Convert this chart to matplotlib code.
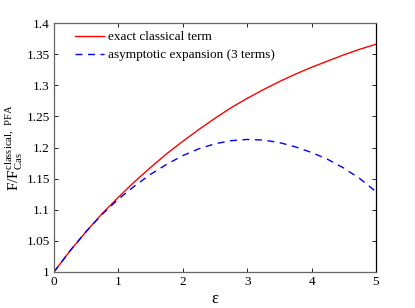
import numpy as np
import matplotlib
matplotlib.use('Agg')
import matplotlib.pyplot as plt

# values
eps = [0, 0.25, 0.5, 0.75, 1.0, 1.25, 1.5, 1.75, 2.0, 2.25, 2.5, 2.75,
       3.0, 3.25, 3.5, 3.75, 4.0, 4.25, 4.5, 4.75, 5.0]
exact = [1.000, 1.034, 1.065, 1.094, 1.120, 1.145, 1.168, 1.190, 1.210, 1.229,
         1.247, 1.264, 1.279, 1.293, 1.306, 1.318, 1.329, 1.339, 1.349, 1.358, 1.366]
asympt = [1.000, 1.034, 1.065, 1.093, 1.117, 1.138, 1.157, 1.173, 1.187, 1.198,
          1.206, 1.211, 1.213, 1.212, 1.208, 1.201, 1.192, 1.181, 1.167, 1.150, 1.129]

labels = ['exact classical term', 'asymptotic expansion (3 terms)']
xticks = [0, 1, 2, 3, 4, 5]
yticks = [1, 1.05, 1.1, 1.15, 1.2, 1.25, 1.3, 1.35, 1.4]

plt.rcParams['font.family'] = ['Liberation Serif', 'DejaVu Serif']
plt.rcParams['mathtext.fontset'] = 'custom'
plt.rcParams['mathtext.rm'] = 'Liberation Serif'
plt.rcParams['font.size'] = 9.5

fig = plt.figure(figsize=(4.15, 3.08), dpi=100)
ax = fig.add_axes([0.130, 0.117, 0.776, 0.808])

ax.plot(eps, exact, color='#ff0000', lw=1.0, label=labels[0])
ax.plot(eps, asympt, color='#0000ff', lw=1.0, ls=(0, (5, 4)), label=labels[1])

ax.set_xlim(0, 5)
ax.set_ylim(1, 1.4)
ax.set_xticks(xticks)
ax.set_yticks(yticks)
ax.set_yticklabels(['1', '1.05', '1.1', '1.15', '1.2', '1.25', '1.3', '1.35', '1.4'])
ax.tick_params(direction='in', top=True, right=True, length=3, width=0.6, pad=3)

for s in ['left', 'bottom', 'top']:
    ax.spines[s].set_color('#666666')
ax.spines['right'].set_color('black')
for s in ax.spines.values():
    s.set_linewidth(0.9)

ax.set_xlabel('ε', fontsize=12, labelpad=2)
ax.set_ylabel(r'F/F$_{\mathrm{Cas}}^{\mathrm{classical,\ PFA}}$', fontsize=11,
              va='center')
ax.yaxis.set_label_coords(-0.125, 0.5)

ax.legend(loc='upper left', frameon=False, handlelength=2.2, handletextpad=0.3,
          labelspacing=0.45, borderaxespad=0.2, bbox_to_anchor=(0.04, 1.0))

fig.savefig('out.png', dpi=100)
